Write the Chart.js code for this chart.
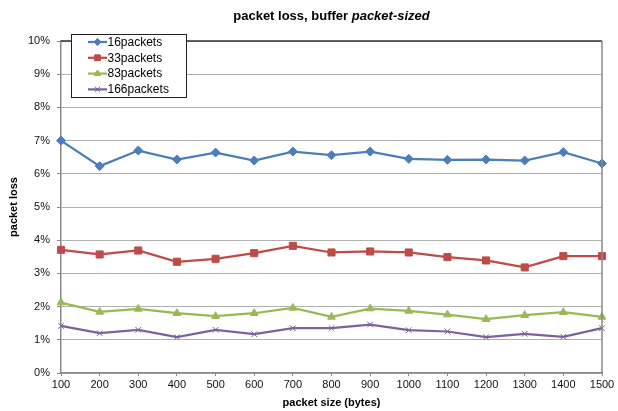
<!DOCTYPE html>
<html>
<head>
<meta charset="utf-8">
<script src="https://cdn.jsdelivr.net/npm/chart.js@4.4.0/dist/chart.umd.min.js"></script>
<style>
  html, body { margin: 0; padding: 0; background: #fff; }
  #wrap { width: 618px; height: 411px; }
</style>
</head>
<body>
<div id="wrap"><canvas id="chart"></canvas></div>
<script>
const sizes = [100, 200, 300, 400, 500, 600, 700, 800, 900, 1000, 1100, 1200, 1300, 1400, 1500];
const loss16 = [7.00, 6.23, 6.70, 6.43, 6.64, 6.40, 6.67, 6.56, 6.67, 6.45, 6.42, 6.43, 6.40, 6.65, 6.31];
const loss33 = [3.71, 3.57, 3.69, 3.35, 3.44, 3.61, 3.83, 3.63, 3.66, 3.63, 3.49, 3.39, 3.18, 3.52, 3.52];
const loss83 = [2.12, 1.84, 1.93, 1.80, 1.71, 1.80, 1.96, 1.69, 1.94, 1.87, 1.76, 1.62, 1.74, 1.83, 1.69];
const loss166 = [1.42, 1.20, 1.30, 1.08, 1.30, 1.17, 1.35, 1.35, 1.46, 1.29, 1.25, 1.08, 1.18, 1.09, 1.35];

const FONT = "'Liberation Sans', Arial, sans-serif";

function series(label, data, color, style, r) {
  return {
    label: label,
    data: data,
    borderColor: color,
    backgroundColor: color,
    borderWidth: 2.25,
    tension: 0,
    pointStyle: style,
    pointRadius: r,
    pointBorderWidth: 1,
    pointBackgroundColor: color,
    pointBorderColor: color
  };
}

// title with italic part + boxed legend + plot frame
const decor = {
  id: "decor",
  afterDraw(chart) {
    const c = chart.ctx;
    const a = chart.chartArea;
    c.save();
    // frame: dark top, grey right
    c.strokeStyle = "#333";
    c.lineWidth = 1.5;
    c.beginPath();
    c.moveTo(a.left, a.top);
    c.lineTo(a.right, a.top);
    c.stroke();
    c.strokeStyle = "#888";
    c.beginPath();
    c.moveTo(a.right, a.top);
    c.lineTo(a.right, a.bottom);
    c.stroke();

    // title
    const t1 = "packet loss, buffer ";
    const t2 = "packet-sized";
    c.fillStyle = "#000";
    c.textBaseline = "middle";
    c.font = "bold 13px " + FONT;
    const w1 = c.measureText(t1).width;
    c.font = "italic bold 13px " + FONT;
    const w2 = c.measureText(t2).width;
    const x = (a.left + a.right) / 2 - (w1 + w2) / 2;
    c.textAlign = "left";
    c.font = "bold 13px " + FONT;
    c.fillText(t1, x, 16);
    c.font = "italic bold 13px " + FONT;
    c.fillText(t2, x + w1, 16);

    // legend
    const bx = 71, by = 34, bw = 115, bh = 63;
    c.fillStyle = "#fff";
    c.fillRect(bx, by, bw, bh);
    c.strokeStyle = "#222";
    c.lineWidth = 1;
    c.strokeRect(bx + 0.5, by + 0.5, bw, bh);
    c.font = "12px " + FONT;
    chart.data.datasets.forEach((ds, i) => {
      const y = 42 + i * 15.8;
      c.strokeStyle = ds.borderColor;
      c.lineWidth = 2.25;
      c.beginPath();
      c.moveTo(88, y);
      c.lineTo(107, y);
      c.stroke();
      c.fillStyle = ds.borderColor;
      c.lineWidth = 1;
      if (Chart.helpers && Chart.helpers.drawPoint) {
        Chart.helpers.drawPoint(c, {
          pointStyle: ds.pointStyle, radius: ds.pointRadius * 0.78, rotation: 0, borderWidth: 1
        }, 97.5, y);
        c.fill();
        c.stroke();
      }
      c.fillStyle = "#000";
      c.fillText(ds.label, 107.5, y + 0.5);
    });
    c.restore();
  }
};

new Chart(document.getElementById("chart"), {
  type: "line",
  data: {
    labels: sizes,
    datasets: [
      series("16packets", loss16, "#4a7ebb", "rectRot", 4.5),
      series("33packets", loss33, "#be4b48", "rect", 5),
      series("83packets", loss83, "#98b954", "triangle", 4.5),
      series("166packets", loss166, "#7d60a0", "crossRot", 4)
    ]
  },
  options: {
    responsive: true,
    maintainAspectRatio: false,
    animation: false,
    layout: { padding: { top: 41, right: 16, bottom: 0, left: 0 } },
    plugins: {
      legend: { display: false },
      title: { display: false },
      tooltip: { enabled: false }
    },
    scales: {
      x: {
        type: "category",
        offset: false,
        afterFit: s => { s.height = 38; },
        grid: { drawOnChartArea: false, drawTicks: true, tickLength: 3, color: "#888" },
        border: { color: "#888", width: 1.5 },
        ticks: { color: "#111", font: { family: FONT, size: 11 }, padding: 2, maxRotation: 0, autoSkip: false },
        title: {
          display: true, text: "packet size (bytes)", color: "#000",
          font: { family: FONT, size: 11, weight: "bold" }, padding: { top: 0, bottom: 1 }
        }
      },
      y: {
        min: 0,
        max: 10,
        afterFit: s => { s.width = 61; },
        grid: { color: "#b0b0b0", lineWidth: 1, tickLength: 4, tickColor: "#888" },
        border: { color: "#888", width: 1.5 },
        ticks: {
          stepSize: 1, color: "#111", padding: 7,
          font: { family: FONT, size: 11 },
          callback: v => v + "%"
        },
        title: {
          display: true, text: "packet loss", color: "#000",
          font: { family: FONT, size: 11, weight: "bold" }, padding: { top: 7, bottom: 0 }
        }
      }
    }
  },
  plugins: [decor]
});
</script>
</body>
</html>
